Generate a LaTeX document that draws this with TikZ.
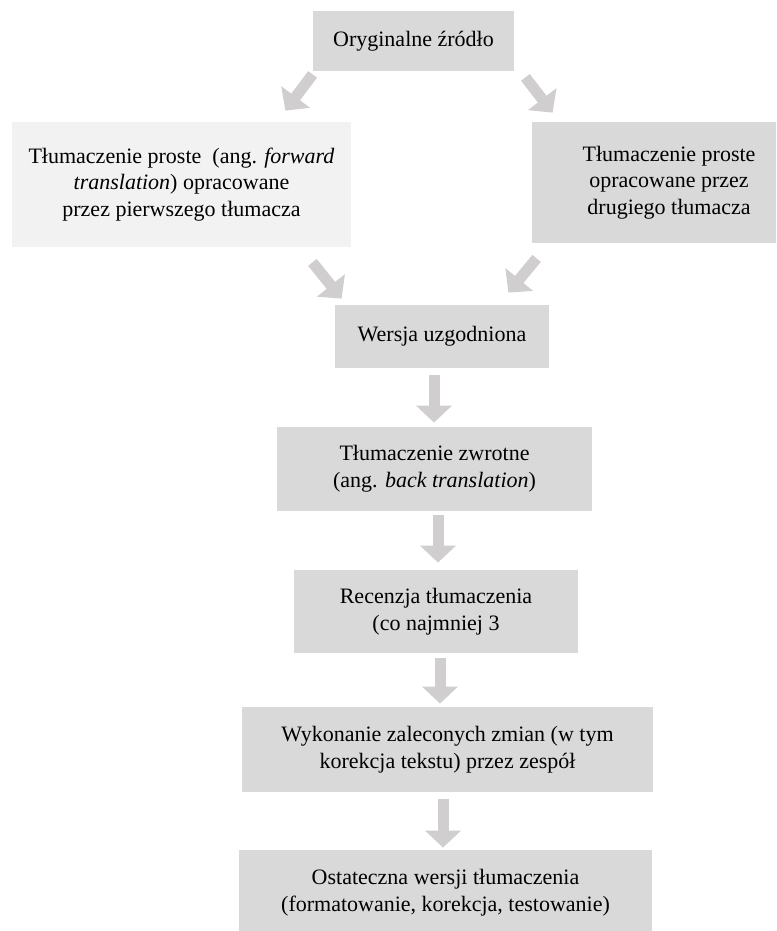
\documentclass[tikz,border=0pt]{standalone}
\usepackage{fontspec}
\setmainfont{Liberation Serif}
\usetikzlibrary{arrows.meta}
\definecolor{boxgray}{HTML}{D9D9D9}
\definecolor{boxlight}{HTML}{F2F2F2}
\definecolor{arrowgray}{HTML}{D0CECE}
\begin{document}
\begin{tikzpicture}[x=0.5pt,y=-0.5pt,
	stage/.style={fill=boxgray,inner sep=0pt,align=center,font=\fontsize{11}{13.3}\selectfont},
	flow/.style={draw=arrowgray,line width=5.5pt,-{Triangle[length=8.5pt,width=17.5pt]}}]
	\useasboundingbox (0,0) rectangle (776,931);
	\clip (0,0) rectangle (776,931);
	% boxes
	\node[stage,minimum width=100.5pt,minimum height=30pt] (orig) at (413.5,41) {Oryginalne źródło};
	\node[stage,fill=boxlight,minimum width=169.5pt,minimum height=62.5pt] (first) at (181.5,184.5)
		{Tłumaczenie proste~ (ang. \textit{forward}\\\textit{translation}) opracowane\\przez pierwszego tłumacza};
	\node[stage,minimum width=137pt,minimum height=60.5pt] (second) at (669,182.5)
		{Tłumaczenie proste\\opracowane przez\\drugiego tłumacza};
	\node[stage,minimum width=107pt,minimum height=31.5pt] (wersja) at (442,336.5) {Wersja uzgodniona};
	\node[stage,minimum width=157.5pt,minimum height=42pt] (zwrotne) at (434.5,469)
		{Tłumaczenie zwrotne\\(ang. \textit{back translation})};
	\node[stage,minimum width=142pt,minimum height=41.5pt] (recenzja) at (436,611.5)
		{Recenzja tłumaczenia\\(co najmniej 3};
	\node[stage,minimum width=205.5pt,minimum height=42.5pt] (wykonanie) at (447.5,749.5)
		{Wykonanie zaleconych zmian (w tym\\korekcja tekstu) przez zespół};
	\node[stage,minimum width=206.5pt,minimum height=42.5pt] (koniec) at (445.5,892.5)
		{Ostateczna wersji tłumaczenia\\(formatowanie, korekcja, testowanie)};
	% arrows
	\draw[flow] ([yshift=-1.5pt]orig.south west) -- ([xshift=-33pt,yshift=5.5pt]first.north east);
	\draw[flow] ([xshift=5.5pt,yshift=-3pt]orig.south east) -- ([xshift=10.5pt,yshift=4.5pt]second.north west);
	\draw[flow] ([xshift=-19.5pt,yshift=-7.5pt]first.south east) -- ([xshift=3.5pt,yshift=3pt]wersja.north west);
	\draw[flow] ([xshift=2.5pt,yshift=-7.5pt]second.south west) -- ([xshift=-20.5pt,yshift=6pt]wersja.north east);
	\draw[flow] ([xshift=-4pt,yshift=-3.5pt]wersja.south) -- ([xshift=-4pt,yshift=2pt]wersja.south |- zwrotne.north);
	\draw[flow] ([xshift=1.75pt,yshift=-2pt]zwrotne.south) -- ([xshift=1pt,yshift=3.5pt]recenzja.north);
	\draw[flow] ([xshift=2pt,yshift=-2.5pt]recenzja.south) -- ([xshift=-3.75pt,yshift=1.5pt]wykonanie.north);
	\draw[flow] ([xshift=-2.25pt,yshift=-3.5pt]wykonanie.south) -- ([xshift=-1.25pt,yshift=1pt]koniec.north);
\end{tikzpicture}
\end{document}
